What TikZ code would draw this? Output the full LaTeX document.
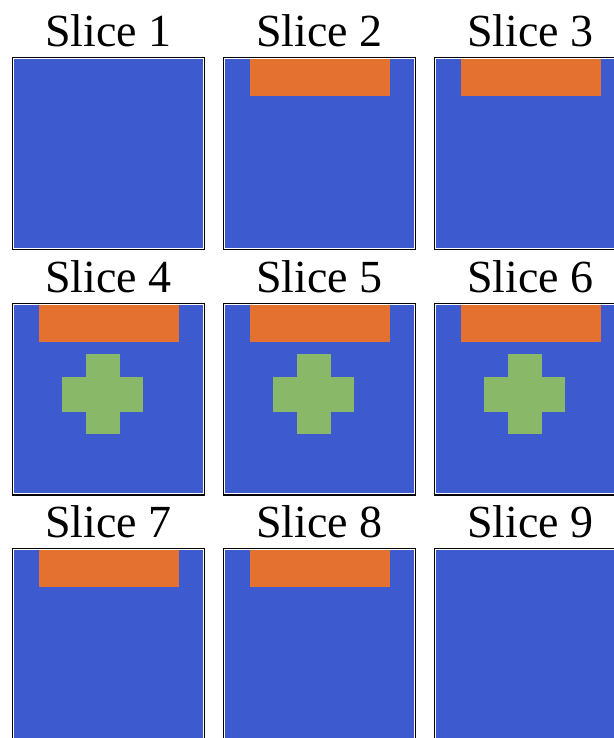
\documentclass[tikz,border=0pt]{standalone}
\usepackage{fontspec}
\setmainfont{Liberation Serif}
\usetikzlibrary{positioning}
\definecolor{sliceblue}{RGB}{61,91,206}
\definecolor{sliceorange}{RGB}{229,113,48}
\definecolor{slicegreen}{RGB}{137,185,104}
\tikzset{
  panel/.style={fill=sliceblue},
  rim/.style={draw=white,line width=0.8pt},
  frame/.style={draw=black,line width=1.3pt},
  bar/.style={fill=sliceorange},
  arm/.style={fill=slicegreen},
  lbl/.style={font=\fontsize{46}{50}\selectfont,anchor=base,inner sep=0pt},
}

\begin{document}
\begin{tikzpicture}[x=1pt,y=-1pt]
  \useasboundingbox (0,0) rectangle (613,738);
  % --- nine slices, three by three ---
  \foreach \n/\col/\row/\hasbar/\hascross in
      {1/0/0/0/0,2/1/0/1/0,3/2/0/1/0,
       4/0/1/1/1,5/1/1/1/1,6/2/1/1/1,
       7/0/2/1/0,8/1/2/1/0,9/2/2/0/0} {
    \begin{scope}[shift={(12+211*\col,57+245.5*\row)}]
      \fill[panel] (0,0) rectangle (193,193);
      \ifnum\hasbar=1
        \fill[bar] (27,2.4) rectangle (167,39);
      \fi
      \ifnum\hascross=1
        \fill[arm] (74,51) rectangle (108,131);
        \fill[arm] (50,74) rectangle (131,109);
      \fi
      \draw[rim] (1.8,1.8) rectangle (191.2,191.2);
      \draw[frame] (0.65,0.65) rectangle (192.35,192.35);
      \node[lbl] (title\n) at (96.5,-10.5) {Slice \n};
    \end{scope}
  }
\end{tikzpicture}
\end{document}
